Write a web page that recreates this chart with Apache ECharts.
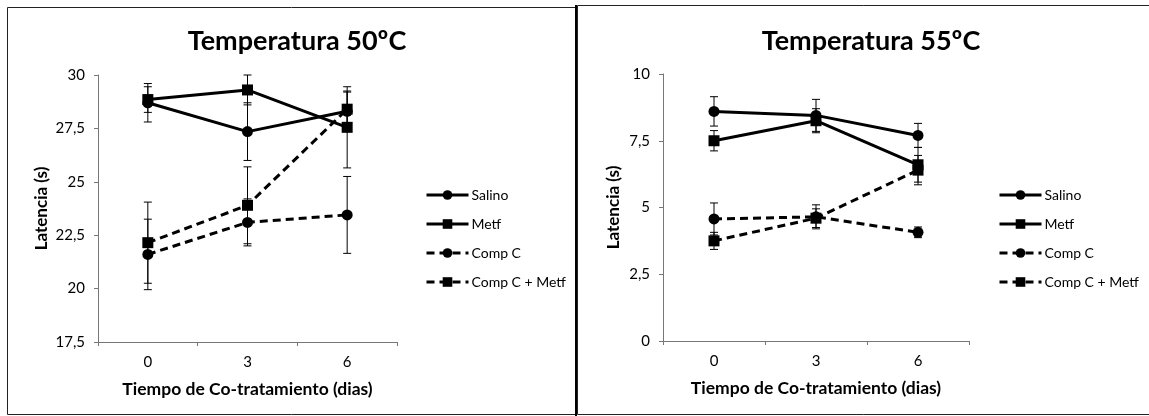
<!DOCTYPE html>
<html>
<head>
<meta charset="utf-8">
<script src="https://cdn.jsdelivr.net/npm/echarts@6/dist/echarts.min.js"></script>
<style>html,body{margin:0;padding:0;background:#fff}#c{width:1149px;height:416px}</style>
</head>
<body>
<div id="c"></div>
<script>
// ---- data ----
const categories = ['0', '3', '6'];
const seriesNames = ['Salino', 'Metf', 'Comp C', 'Comp C + Metf'];
const titles = ['Temperatura 50ºC', 'Temperatura 55ºC'];
const xAxisTitle = 'Tiempo de Co-tratamiento (dias)';
const yAxisTitle = 'Latencia (s)';

// 50ºC
const salino50 = [28.7, 27.35, 28.3];
const metf50 = [28.85, 29.3, 27.55];
const compC50 = [21.6, 23.1, 23.45];
const compCMetf50 = [22.15, 23.9, 28.4];
const salino50Err = [0.9, 1.35, 0.9];
const metf50Err = [0.6, 0.7, 1.9];
const compC50Err = [1.65, 1.1, 1.8];
const compCMetf50Err = [1.9, 1.8, 0.85];
const yTicks50 = ['17,5', '20', '22,5', '25', '27,5', '30'];

// 55ºC
const salino55 = [8.6, 8.45, 7.7];
const metf55 = [7.5, 8.25, 6.6];
const compC55 = [4.57, 4.65, 4.07];
const compCMetf55 = [3.75, 4.6, 6.4];
const salino55Err = [0.55, 0.6, 0.45];
const metf55Err = [0.38, 0.45, 0.65];
const compC55Err = [0.6, 0.45, 0.2];
const compCMetf55Err = [0.32, 0.35, 0.55];
const yTicks55 = ['0', '2,5', '5', '7,5', '10'];

// ---- chart ----
const FONT = 'Lato';
const chart = echarts.init(document.getElementById('c'), null, {renderer: 'canvas'});

const styles = [
  {symbol: 'circle', dash: 'solid'},
  {symbol: 'rect', dash: 'solid'},
  {symbol: 'circle', dash: [8, 5]},
  {symbol: 'rect', dash: [8, 5]}
];

function errSeries(gi, vals, errs) {
  return {
    type: 'custom',
    xAxisIndex: gi, yAxisIndex: gi,
    silent: true, z: 1,
    data: vals.map((v, i) => [i, v, errs[i]]),
    renderItem: function (params, api) {
      const x = api.value(0), v = api.value(1), e = api.value(2);
      const top = api.coord([x, v + e]);
      const bot = api.coord([x, v - e]);
      const w = 4;
      const st = {stroke: '#000', lineWidth: 1};
      return {type: 'group', children: [
        {type: 'line', shape: {x1: top[0], y1: top[1], x2: bot[0], y2: bot[1]}, style: st},
        {type: 'line', shape: {x1: top[0] - w, y1: top[1], x2: top[0] + w, y2: top[1]}, style: st},
        {type: 'line', shape: {x1: bot[0] - w, y1: bot[1], x2: bot[0] + w, y2: bot[1]}, style: st}
      ]};
    }
  };
}

function lineSeries(gi, idx, vals) {
  const s = styles[idx];
  return {
    type: 'line', name: seriesNames[idx],
    xAxisIndex: gi, yAxisIndex: gi, z: 3,
    data: vals,
    symbol: s.symbol, symbolSize: 11,
    itemStyle: {color: '#000'},
    lineStyle: {color: '#000', width: 3, type: s.dash},
    animation: false
  };
}

const sets = [
  {vals: [salino50, metf50, compC50, compCMetf50], errs: [salino50Err, metf50Err, compC50Err, compCMetf50Err]},
  {vals: [salino55, metf55, compC55, compCMetf55], errs: [salino55Err, metf55Err, compC55Err, compCMetf55Err]}
];

const series = [];
sets.forEach((set, gi) => {
  set.vals.forEach((v, k) => series.push(errSeries(gi, v, set.errs[k])));
  set.vals.forEach((v, k) => series.push(lineSeries(gi, k, v)));
});

const axisLineStyle = {color: '#777', width: 1};
const labelStyle = {color: '#000', fontFamily: FONT, fontSize: 15};

function yAxis(gi, min, max, ticks, gap) {
  return {
    type: 'value', gridIndex: gi, min: min, max: max, interval: 2.5,
    axisLine: {show: true, lineStyle: axisLineStyle},
    axisTick: {show: true, length: 4, lineStyle: axisLineStyle},
    splitLine: {show: false},
    axisLabel: Object.assign({margin: 13, formatter: function (v) {
      return ticks[Math.round((v - min) / 2.5)];
    }}, labelStyle),
    name: yAxisTitle, nameLocation: 'middle', nameGap: gap, nameRotate: 90,
    nameTextStyle: {color: '#000', fontFamily: FONT, fontWeight: 'bold', fontSize: 17}
  };
}
function xAxis(gi) {
  return {
    type: 'category', gridIndex: gi, data: categories, boundaryGap: true,
    axisLine: {show: true, lineStyle: axisLineStyle},
    axisTick: {show: true, length: 4, lineStyle: axisLineStyle},
    axisLabel: Object.assign({margin: 13}, labelStyle),
    name: xAxisTitle, nameLocation: 'middle', nameGap: 38,
    nameTextStyle: {color: '#000', fontFamily: FONT, fontWeight: 'bold', fontSize: 17.5}
  };
}

const legendBase = {orient: 'vertical', top: 183, itemWidth: 42, itemHeight: 12, itemGap: 15,
  data: seriesNames, selectedMode: false,
  lineStyle: {width: 3},
  textStyle: {fontFamily: FONT, fontSize: 14, color: '#000', padding: [0, 0, 0, -2]}};

chart.setOption({
  animation: false,
  backgroundColor: '#fff',
  title: [
    {text: titles[0], left: 292, top: 23, textAlign: 'center',
     textStyle: {fontFamily: FONT, fontWeight: 'bold', fontSize: 27, color: '#000'}},
    {text: titles[1], left: 866, top: 23, textAlign: 'center',
     textStyle: {fontFamily: FONT, fontWeight: 'bold', fontSize: 27, color: '#000'}}
  ],
  grid: [
    {left: 98, top: 75, width: 299, height: 267},
    {left: 663, top: 74, width: 306, height: 267}
  ],
  xAxis: [xAxis(0), xAxis(1)],
  yAxis: [yAxis(0, 17.5, 30, yTicks50, 48), yAxis(1, 0, 10, yTicks55, 41)],
  legend: [
    Object.assign({left: 420}, legendBase),
    Object.assign({left: 993}, legendBase)
  ],
  graphic: [
    {type: 'rect', shape: {x: 7.5, y: 7.5, width: 568, height: 407}, style: {fill: null, stroke: '#222', lineWidth: 1}, silent: true},
    {type: 'rect', shape: {x: 577.5, y: 5.5, width: 580, height: 409}, style: {fill: null, stroke: '#222', lineWidth: 1}, silent: true},
    {type: 'line', shape: {x1: 576, y1: 5, x2: 576, y2: 416}, style: {stroke: '#000', lineWidth: 2}, silent: true}
  ],
  series: series
});
</script>
</body>
</html>
